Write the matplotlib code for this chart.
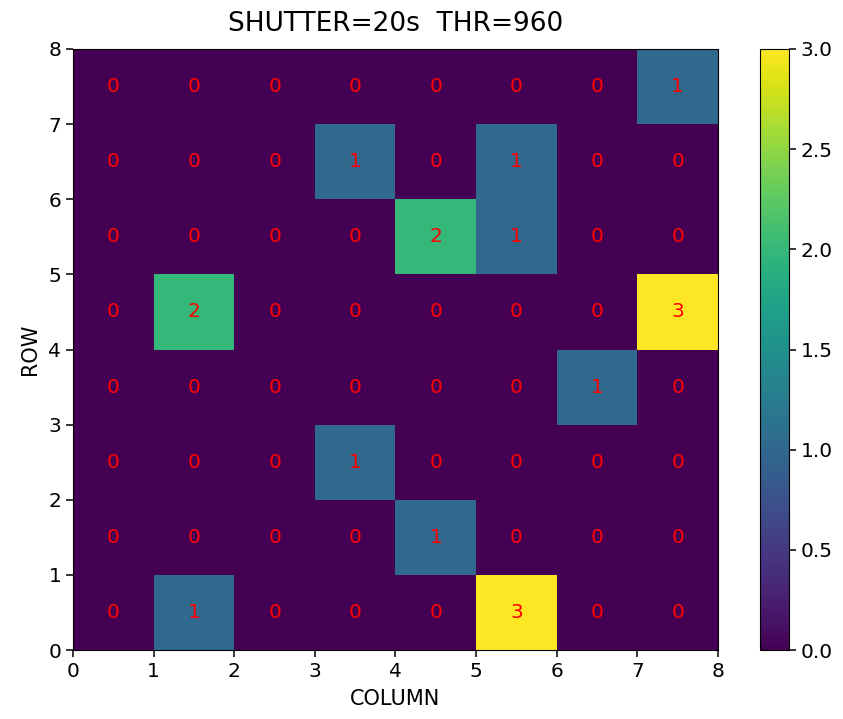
import numpy as np
import matplotlib
matplotlib.use('agg')
import matplotlib.pyplot as plt

# counts per cell, row 0 at the bottom
counts = np.array([
	[0, 1, 0, 0, 0, 3, 0, 0],  # row 0
	[0, 0, 0, 0, 1, 0, 0, 0],  # row 1
	[0, 0, 0, 1, 0, 0, 0, 0],  # row 2
	[0, 0, 0, 0, 0, 0, 1, 0],  # row 3
	[0, 2, 0, 0, 0, 0, 0, 3],  # row 4
	[0, 0, 0, 0, 2, 1, 0, 0],  # row 5
	[0, 0, 0, 1, 0, 1, 0, 0],  # row 6
	[0, 0, 0, 0, 0, 0, 0, 1],  # row 7
])
shutter = '20s'
thr = 960

fig = plt.figure(figsize=(8.43, 7.19), dpi=100)
ax = fig.add_axes([73 / 843, 69 / 719, 645 / 843, 601 / 719])
cax = fig.add_axes([760 / 843, 69 / 719, 29 / 843, 601 / 719])

mesh = ax.pcolormesh(np.arange(counts.shape[1] + 1), np.arange(counts.shape[0] + 1),
	counts, cmap='viridis', vmin=0, vmax=3)

# write the count in each cell
for i in range(counts.shape[0]):
	for j in range(counts.shape[1]):
		ax.text(j + 0.5, i + 0.5, str(counts[i, j]), color='red',
			ha='center', va='center', fontsize=14.5)

ax.set_xlim(0, 8)
ax.set_ylim(0, 8)
ax.tick_params(labelsize=14.5, length=5, width=1.1)
ax.set_xlabel('COLUMN', fontsize=15, labelpad=6)
ax.set_ylabel('ROW', fontsize=15, labelpad=6)
ax.set_title('SHUTTER=%s  THR=%d' % (shutter, thr), fontsize=19, pad=13)

cb = fig.colorbar(mesh, cax=cax)
cb.set_ticks([0.0, 0.5, 1.0, 1.5, 2.0, 2.5, 3.0])
cb.ax.tick_params(labelsize=14.5, length=5, width=1.1)

fig.savefig('out.png')
